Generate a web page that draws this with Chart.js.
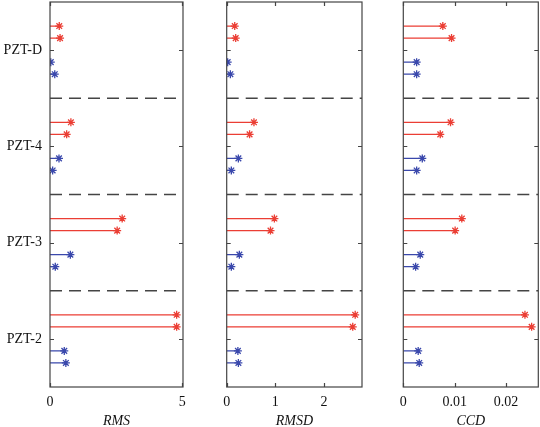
<!DOCTYPE html>
<html>
<head>
<meta charset="utf-8">
<title>PZT damage indices</title>
<script src="https://cdn.jsdelivr.net/npm/chart.js"></script>
<style>
  body { margin:0; background:#fff; width:540px; height:427px; position:relative; overflow:hidden; }
  canvas { position:absolute; top:0; }
</style>
</head>
<body>
<canvas id="c1" style="left:0px" width="190" height="427"></canvas>
<canvas id="c2" style="left:212px" width="160" height="427"></canvas>
<canvas id="c3" style="left:388px" width="152" height="427"></canvas>
<script>
// groups from top to bottom
var sensors = ['PZT-D', 'PZT-4', 'PZT-3', 'PZT-2'];

// two red stems then two blue stems in each group
var rmsRed1  = [0.35, 0.79, 2.73, 4.79];
var rmsRed2  = [0.38, 0.63, 2.54, 4.79];
var rmsBlue1 = [0.03, 0.34, 0.77, 0.54];
var rmsBlue2 = [0.18, 0.10, 0.20, 0.60];

var rmsdRed1  = [0.165, 0.56, 0.98, 2.64];
var rmsdRed2  = [0.185, 0.47, 0.90, 2.59];
var rmsdBlue1 = [0.02, 0.24, 0.26, 0.23];
var rmsdBlue2 = [0.075, 0.095, 0.095, 0.24];

var ccdRed1  = [0.0077, 0.0092, 0.0114, 0.0237];
var ccdRed2  = [0.0094, 0.0072, 0.0101, 0.0250];
var ccdBlue1 = [0.0026, 0.0037, 0.0033, 0.0029];
var ccdBlue2 = [0.0026, 0.0026, 0.0024, 0.0031];

var rmsTicks = [0, 5];
var rmsdTicks = [0, 1, 2];
var ccdTicks = [0, 0.01, 0.02];

var RED = 'rgb(235,62,52)';
var BLUE = 'rgb(58,72,172)';
var offsets = [-0.25, -0.125, 0.125, 0.25];

function stems(vals, k, color) {
  var pts = [];
  vals.forEach(function(v, i) {
    var y = i + 1 + offsets[k];
    pts.push({x: 0, y: y}, {x: v, y: y}, {x: null, y: null});
  });
  return {
    data: pts, showLine: true, spanGaps: false,
    borderColor: color, backgroundColor: color, borderWidth: 1.2,
    pointStyle: 'star', pointBorderWidth: 1.3,
    pointRadius: function(c) { return c.raw && c.raw.x ? 4 : 0; }
  };
}

function separators(xmax) {
  var pts = [];
  [1.5, 2.5, 3.5].forEach(function(y) {
    pts.push({x: 0, y: y}, {x: xmax, y: y}, {x: null, y: null});
  });
  return { data: pts, showLine: true, spanGaps: false, borderColor: '#444',
    borderWidth: 1.3, borderDash: [12, 7], pointRadius: 0 };
}

var boxPlugin = {
  id: 'box',
  afterDatasetsDraw: function(chart) {
    var a = chart.chartArea, ctx = chart.ctx;
    var xs = chart.scales.x, ys = chart.scales.y;
    ctx.save();
    ctx.strokeStyle = '#444';
    ctx.lineWidth = 1.2;
    ctx.strokeRect(a.left, a.top, a.right - a.left, a.bottom - a.top);
    ctx.beginPath();
    xs.ticks.forEach(function(t) {
      var px = Math.round(xs.getPixelForValue(t.value)) + 0.5;
      ctx.moveTo(px, a.bottom); ctx.lineTo(px, a.bottom - 4);
      ctx.moveTo(px, a.top); ctx.lineTo(px, a.top + 4);
    });
    ys.ticks.forEach(function(t) {
      var py = Math.round(ys.getPixelForValue(t.value)) + 0.5;
      ctx.moveTo(a.left, py); ctx.lineTo(a.left + 4, py);
      ctx.moveTo(a.right, py); ctx.lineTo(a.right - 4, py);
    });
    ctx.stroke();
    ctx.restore();
  }
};

function makeChart(id, title, series, xmax, xticks, yWidth, padL, padR, fmt) {
  var ds = [separators(xmax)];
  series.forEach(function(s, k) { ds.push(stems(s, k, k < 2 ? RED : BLUE)); });
  return new Chart(document.getElementById(id), {
    type: 'scatter',
    data: { datasets: ds },
    plugins: [boxPlugin],
    options: {
      responsive: false, animation: false,
      layout: { padding: { left: padL, right: padR, top: 2, bottom: 0 } },
      plugins: { legend: { display: false }, tooltip: { enabled: false } },
      scales: {
        x: {
          type: 'linear', min: 0, max: xmax,
          afterBuildTicks: function(s) { s.ticks = xticks.map(function(v) { return {value: v}; }); },
          afterFit: function(s) { s.height = 40; s.paddingLeft = 0; s.paddingRight = 0; },
          grid: { display: false, drawTicks: false }, border: { display: false },
          ticks: { padding: 7, color: '#111', font: { family: 'Liberation Serif', size: 14 },
            callback: function(v) { return fmt(v); } },
          title: { display: true, text: title, color: '#111', padding: { top: 0, bottom: -3 },
            font: { family: 'Liberation Serif', size: 14, style: 'italic' } }
        },
        y: {
          type: 'linear', min: 0.5, max: 4.5, reverse: true,
          afterBuildTicks: function(s) { s.ticks = sensors.map(function(n, i) { return {value: i + 1}; }); },
          afterFit: function(s) { s.width = yWidth; s.paddingTop = 0; s.paddingBottom = 0; },
          grid: { display: false, drawTicks: false }, border: { display: false },
          ticks: { display: yWidth > 0, padding: 8, color: '#111',
            font: { family: 'Liberation Serif', size: 14 },
            callback: function(v) { return sensors[Math.round(v) - 1]; } }
        }
      }
    }
  });
}

makeChart('c1', 'RMS', [rmsRed1, rmsRed2, rmsBlue1, rmsBlue2], 5.03, rmsTicks, 50, 0, 7,
  function(v) { return String(v); });
makeChart('c2', 'RMSD', [rmsdRed1, rmsdRed2, rmsdBlue1, rmsdBlue2], 2.78, rmsdTicks, 0, 14.7, 10,
  function(v) { return String(v); });
makeChart('c3', 'CCD', [ccdRed1, ccdRed2, ccdBlue1, ccdBlue2], 0.0263, ccdTicks, 0, 15.3, 1.7,
  function(v) { return String(v); });
</script>
</body>
</html>
